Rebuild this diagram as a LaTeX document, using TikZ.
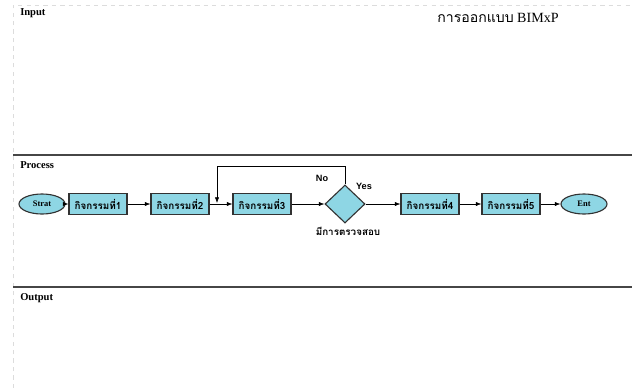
\documentclass[tikz,border=0pt]{standalone}
\usepackage{fontspec}
\setmainfont{Liberation Serif}
\newfontfamily\thaifont[Script=Thai]{Loma}
\newfontfamily\armfont{Liberation Sans}
\usetikzlibrary{arrows.meta, positioning, shapes.geometric}
\definecolor{boxfill}{RGB}{142, 214, 228}
\definecolor{boxline}{RGB}{50, 50, 50}
\definecolor{laneline}{RGB}{70, 70, 70}
\definecolor{pageedge}{RGB}{220, 220, 220}

\begin{document}
\begin{tikzpicture}[x=0.025cm, y=-0.025cm,
    activity/.style={draw=boxline, fill=boxfill, thick, minimum width=1.45cm, minimum height=0.52cm, inner sep=1pt, font=\thaifont\bfseries\scriptsize},
    terminal/.style={ellipse, draw=boxline, fill=boxfill, thick, minimum width=1.15cm, minimum height=0.5cm, inner sep=0pt, font=\bfseries\fontsize{6}{7}\selectfont},
    decision/.style={diamond, draw=boxline, fill=boxfill, thick, minimum width=1cm, minimum height=0.95cm, inner sep=0pt},
    flow/.style={draw=black, -{Latex[length=4pt, width=3pt]}},
    lanetitle/.style={anchor=north west, font=\bfseries\fontsize{7.5}{9}\selectfont, inner sep=0pt}]
        \useasboundingbox (0,0) rectangle (632,388);

        % Page edge
        \draw[pageedge, dashed] (13,388) -- (13,5) -- (632,5);

        % Lanes
        \draw[laneline, thick] (13,155) -- (632,155);
        \draw[laneline, thick] (13,287) -- (632,287);
        \node[lanetitle] (input) at (20,8) {Input};
        \node[lanetitle] (process) at (20,161) {Process};
        \node[lanetitle] (output) at (20,293) {Output};

        % Title
        \node (title) at (498,18) {{\thaifont การออกแบบ} BIMxP};

        % Process flow
        \node[terminal] (start) at (42,204) {Strat};
        \node[activity] (act1) at (98,204) {กิจกรรมที่1};
        \node[activity] (act2) at (180,204) {กิจกรรมที่2};
        \node[activity] (act3) at (262,204) {กิจกรรมที่3};
        \node[decision] (check) at (345,204) {};
        \node[activity] (act4) at (430,204) {กิจกรรมที่4};
        \node[activity] (act5) at (511,204) {กิจกรรมที่5};
        \node[terminal] (finish) at (584,204) {Ent};

        \node[font=\thaifont\bfseries\scriptsize] (checklabel) at (348,231) {มีการตรวจสอบ};
        \node[font=\armfont\bfseries\fontsize{6.5}{8}\selectfont] (nolabel) at (322,178) {No};
        \node[font=\armfont\bfseries\fontsize{6.5}{8}\selectfont] (yeslabel) at (364,186) {Yes};

        \draw[flow] (start) -- (act1);
        \draw[flow] (act1) -- (act2);
        \draw[flow] (act2) -- (act3);
        \draw[flow] (act3) -- (check);
        \draw[flow] (check) -- (act4);
        \draw[flow] (act4) -- (act5);
        \draw[flow] (act5) -- (finish);

        % Loop back
        \coordinate (back) at (217,166);
        \coordinate (rejoin) at (217,203);
        \draw[flow] (check.north) |- (back) -- (rejoin);

    \end{tikzpicture}
\end{document}
